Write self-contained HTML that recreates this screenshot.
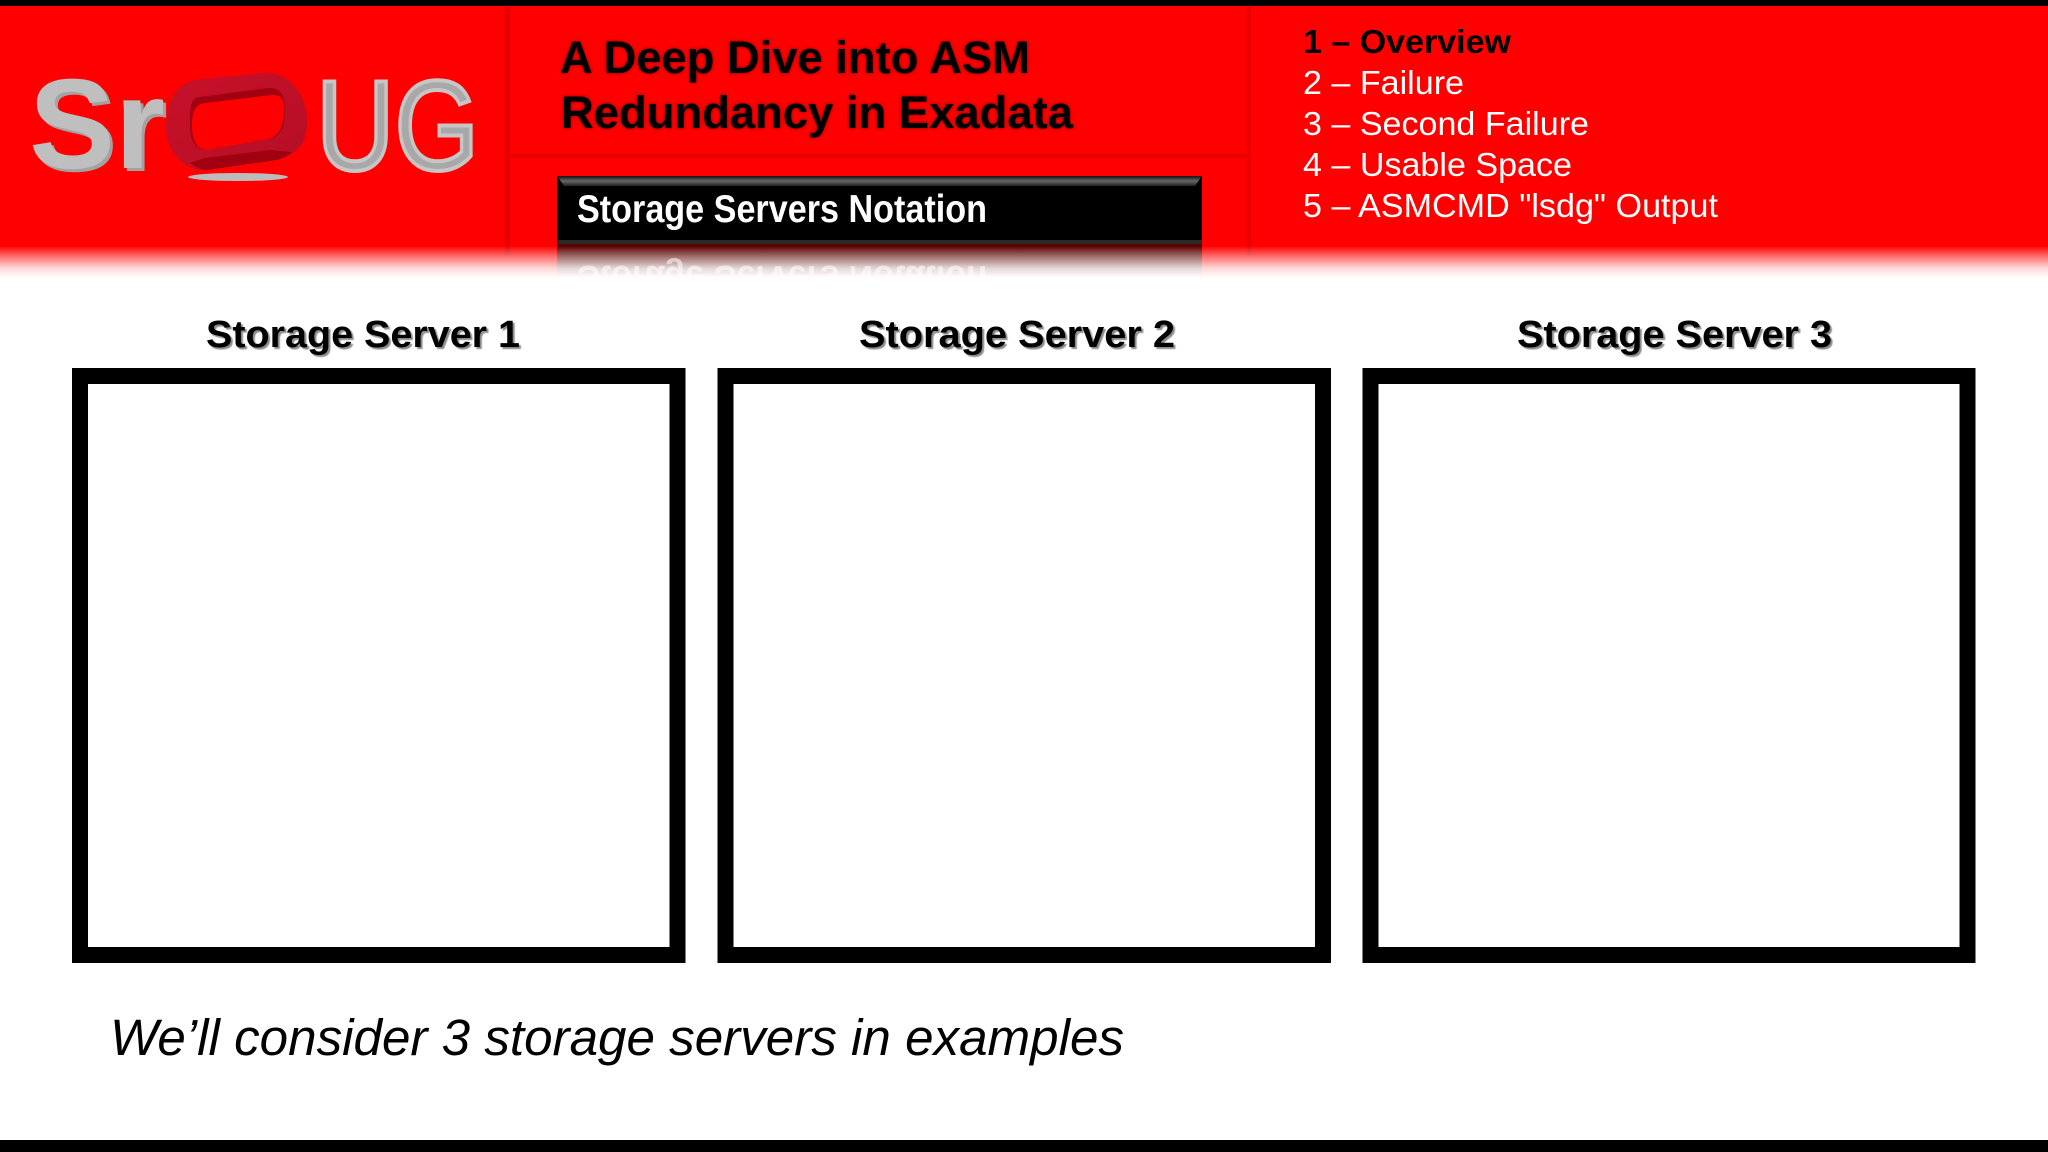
<!DOCTYPE html>
<html><head><meta charset="utf-8"><style>
html,body{margin:0;padding:0;background:#fff;width:2048px;height:1152px;overflow:hidden}
svg{display:block}
text{font-family:"Liberation Sans",sans-serif}
</style></head><body>
<svg width="2048" height="1152" viewBox="0 0 2048 1152" xmlns="http://www.w3.org/2000/svg">
<defs>
<linearGradient id="fade" x1="0" y1="0" x2="0" y2="1">
<stop offset="0" stop-color="#fff" stop-opacity="0"/>
<stop offset="0.3" stop-color="#fff" stop-opacity=".4"/>
<stop offset="0.7" stop-color="#fff" stop-opacity=".85"/>
<stop offset="1" stop-color="#fff" stop-opacity="1"/>
</linearGradient>
<linearGradient id="bevel" x1="0" y1="0" x2="0" y2="1">
<stop offset="0" stop-color="#111"/><stop offset=".5" stop-color="#666"/><stop offset="1" stop-color="#222"/>
</linearGradient>
<linearGradient id="ringg" x1="0" y1="0" x2="1" y2="1">
<stop offset="0" stop-color="#c8102a"/><stop offset="1" stop-color="#b50f25"/>
</linearGradient>
<filter id="soft" x="-10%" y="-20%" width="120%" height="140%"><feGaussianBlur stdDeviation="1.6"/></filter>
<filter id="b05"><feGaussianBlur stdDeviation="0.5"/></filter>
</defs>
<rect width="2048" height="1152" fill="#fff"/>
<rect y="0" width="2048" height="6" fill="#000"/>
<rect y="6" width="2048" height="272" fill="#fe0000"/>
<rect x="505" y="6" width="5" height="250" fill="#e80000" filter="url(#b05)"/>
<rect x="1247" y="6" width="4" height="250" fill="#e80000" filter="url(#b05)"/>
<rect x="508" y="154" width="740" height="4" fill="#e80000" filter="url(#b05)"/>

<!-- logo -->
<g>
<text x="32" y="171" font-size="128" font-weight="700" fill="#a2a2a2" textLength="136" lengthAdjust="spacingAndGlyphs">Sr</text>
<text x="29" y="168" font-size="128" font-weight="700" fill="#bfbfbf" textLength="136" lengthAdjust="spacingAndGlyphs">Sr</text>
<text x="316" y="170" font-size="128" fill="#a8a8a8" stroke="#c6c6c6" stroke-width="4" textLength="163" lengthAdjust="spacingAndGlyphs">UG</text>
<ellipse cx="238" cy="177" rx="50" ry="4" fill="#bcbcbc"/>
<path fill="url(#ringg)" d="M196 80 L262 73 C290 71 307 95 307 122 C307 145 295 156 276 160 L207 170 C185 172 166 152 166 128 C166 103 175 84 196 80Z"/>
<path fill="#a00010" d="M190 163 Q200 170 207 170 L276 160 Q285 158 292 152 L270 150 L205 158Z"/>
<path fill="#a00010" d="M200 97 L268 88 C280 87 285 95 285 110 C285 128 280 137 268 139 L208 150 C195 151 190 140 190 125 C190 108 190 98 200 97Z"/>
<path fill="#fe0000" d="M205 103 L272 95 C282 95 285 100 284 112 C283 128 278 137 268 139 L208 150 C197 151 192 140 192 126 C192 112 195 104 205 103Z"/>
</g>

<!-- title -->
<g font-size="45" font-weight="700" fill="#000">
<text x="560" y="73" textLength="470" lengthAdjust="spacingAndGlyphs" fill="#700" filter="url(#soft)">A Deep Dive into ASM</text>
<text x="561" y="128" textLength="512" lengthAdjust="spacingAndGlyphs" fill="#700" filter="url(#soft)">Redundancy in Exadata</text>
<text x="560" y="73" textLength="470" lengthAdjust="spacingAndGlyphs">A Deep Dive into ASM</text>
<text x="561" y="128" textLength="512" lengthAdjust="spacingAndGlyphs">Redundancy in Exadata</text>
</g>

<!-- banner reflection -->
<rect x="557" y="244" width="645" height="30" fill="#5a0000"/>
<text transform="translate(0,488) scale(1,-1)" x="577" y="222" font-size="39" font-weight="700" fill="#fff" opacity=".55" textLength="410" lengthAdjust="spacingAndGlyphs">Storage Servers Notation</text>
<!-- fade -->
<rect y="246" width="2048" height="32" fill="url(#fade)"/>
<!-- banner -->
<rect x="557" y="176" width="645" height="68" fill="#000"/>
<path d="M557 176 H1202 L1195 186 H564Z" fill="url(#bevel)"/>
<rect x="557" y="240" width="645" height="4" fill="#2a2a2a"/>
<text x="577" y="222" font-size="39" font-weight="700" fill="#fff" textLength="410" lengthAdjust="spacingAndGlyphs">Storage Servers Notation</text>

<!-- menu -->
<g font-size="33" fill="#fff">
<text x="1303" y="53" font-weight="700" fill="#000" textLength="208" lengthAdjust="spacingAndGlyphs">1 – Overview</text>
<text x="1303" y="94" textLength="161" lengthAdjust="spacingAndGlyphs">2 – Failure</text>
<text x="1303" y="135" textLength="286" lengthAdjust="spacingAndGlyphs">3 – Second Failure</text>
<text x="1303" y="176" textLength="269" lengthAdjust="spacingAndGlyphs">4 – Usable Space</text>
<text x="1303" y="217" textLength="415" lengthAdjust="spacingAndGlyphs">5 – ASMCMD "lsdg" Output</text>
</g>

<!-- servers -->
<g font-size="38" font-weight="700">
<text x="208" y="349" fill="#888" filter="url(#b05)" textLength="314" lengthAdjust="spacingAndGlyphs">Storage Server 1</text>
<text x="861" y="349" fill="#888" filter="url(#b05)" textLength="316" lengthAdjust="spacingAndGlyphs">Storage Server 2</text>
<text x="1519" y="349" fill="#888" filter="url(#b05)" textLength="315" lengthAdjust="spacingAndGlyphs">Storage Server 3</text>
<text x="206" y="347" textLength="314" lengthAdjust="spacingAndGlyphs">Storage Server 1</text>
<text x="859" y="347" textLength="316" lengthAdjust="spacingAndGlyphs">Storage Server 2</text>
<text x="1517" y="347" textLength="315" lengthAdjust="spacingAndGlyphs">Storage Server 3</text>
</g>
<g fill="none" stroke="#000" stroke-width="16">
<rect x="80" y="376" width="597.5" height="579"/>
<rect x="725.5" y="376" width="597.5" height="579"/>
<rect x="1370.5" y="376" width="597" height="579"/>
</g>

<text x="110" y="1055" font-size="51" font-style="italic" fill="#000" textLength="1014" lengthAdjust="spacingAndGlyphs">We’ll consider 3 storage servers in examples</text>
<rect y="1140" width="2048" height="12" fill="#000"/>
</svg>
</body></html>
